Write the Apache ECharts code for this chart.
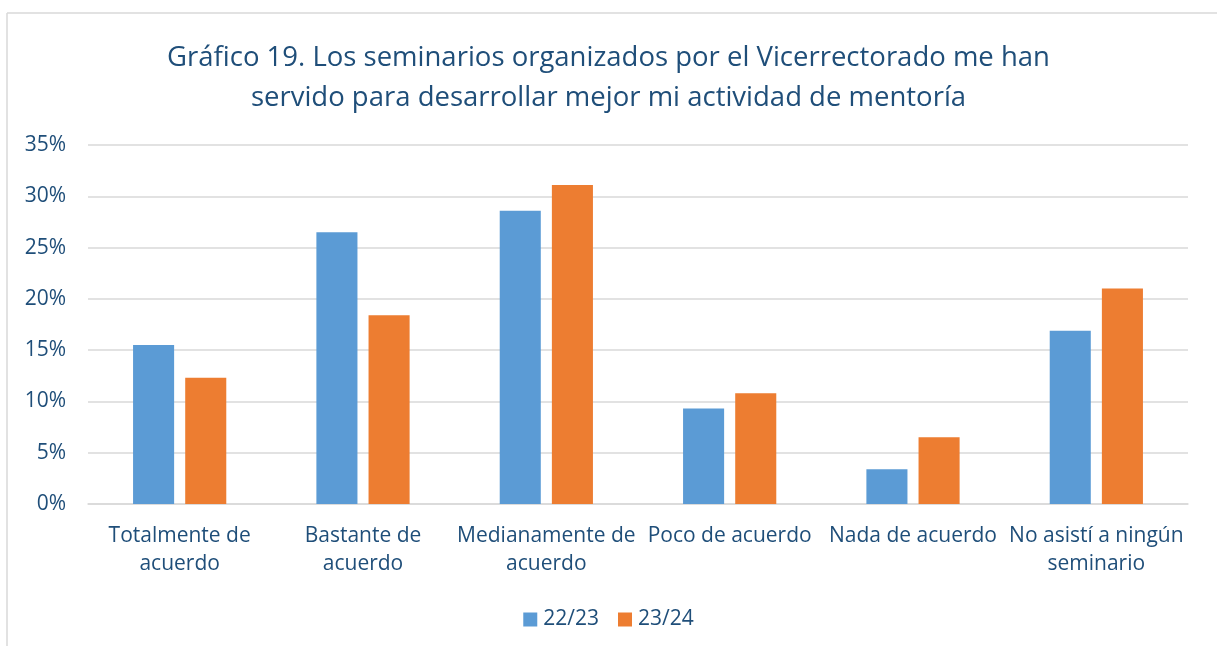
<!DOCTYPE html>
<html><head><meta charset="utf-8">
<script src="https://cdn.jsdelivr.net/npm/echarts@6/dist/echarts.min.js"></script>
<style>html,body{margin:0;padding:0;background:#fff}#c{width:1217px;height:646px}</style>
</head><body><div id="c"></div>
<script>
var categories = ['Totalmente de\nacuerdo','Bastante de\nacuerdo','Medianamente de\nacuerdo','Poco de acuerdo','Nada de acuerdo','No asistí a ningún\nseminario'];
var series2223 = [15.5, 26.5, 28.6, 9.3, 3.4, 16.9];
var series2324 = [12.3, 18.4, 31.1, 10.8, 6.5, 21.0];
var yTicks = [0,5,10,15,20,25,30,35];
var txt = '#1f4e79';
var font = 'Open Sans';
var chart = echarts.init(document.getElementById('c'));
chart.setOption({
  animation:false,
  textStyle:{fontFamily:font},
  title:{text:'Gráfico 19. Los seminarios organizados por el Vicerrectorado me han\nservido para desarrollar mejor mi actividad de mentoría',
    left:'center', top:33, textStyle:{color:txt, fontSize:27.5, fontWeight:'normal', lineHeight:40, fontFamily:font}},
  graphic:[
    {type:'line', shape:{x1:7,y1:13,x2:1217,y2:13}, style:{stroke:'#d9d9d9',lineWidth:1.5}},
    {type:'line', shape:{x1:7,y1:13,x2:7,y2:646}, style:{stroke:'#d9d9d9',lineWidth:1.5}}
  ],
  legend:{bottom:11, left:'center', itemWidth:14, itemHeight:14, itemGap:19, icon:'rect',
    textStyle:{color:txt, fontSize:21, fontFamily:font, padding:[0,0,0,1]}},
  grid:{left:88, right:29, top:145, bottom:142, containLabel:false},
  xAxis:{type:'category', data:categories,
    axisLine:{lineStyle:{color:'#d9d9d9', width:1.5}}, axisTick:{show:false},
    axisLabel:{color:txt, fontSize:21, lineHeight:28, margin:18, interval:0, fontFamily:font}},
  yAxis:{type:'value', min:0, max:35, interval:5,
    axisLine:{show:false}, axisTick:{show:false},
    splitLine:{lineStyle:{color:'#d9d9d9', width:1.5}},
    axisLabel:{color:txt, fontSize:21, margin:22, fontFamily:font, formatter:function(v){return yTicks.indexOf(v)>=0? v+'%':'';}}},
  series:[
    {name:'22/23', type:'bar', data:series2223, barWidth:'22.4%', barGap:'27%', itemStyle:{color:'#5b9bd5'}},
    {name:'23/24', type:'bar', data:series2324, barWidth:'22.4%', barGap:'27%', itemStyle:{color:'#ed7d31'}}
  ]
});
</script></body></html>
